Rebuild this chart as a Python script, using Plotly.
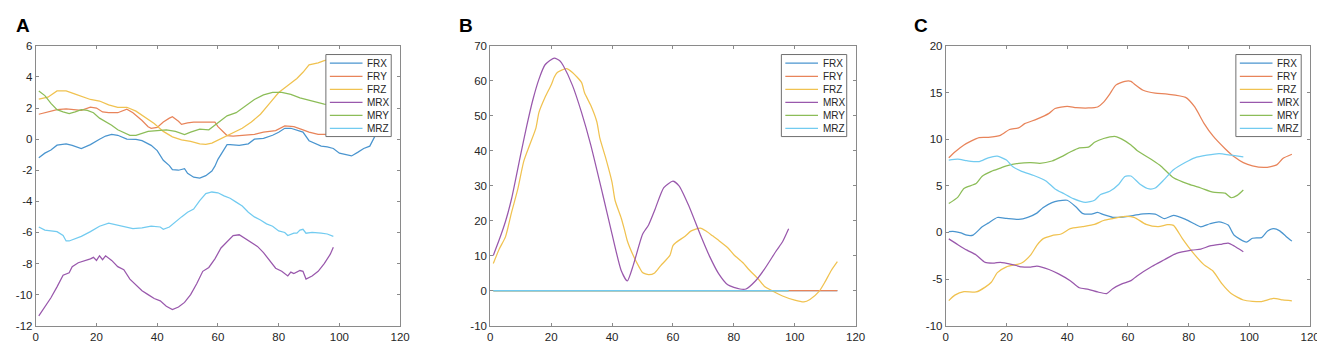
import plotly.graph_objects as go

# ---------------- data ----------------
SERIES = ["FRX", "FRY", "FRZ", "MRX", "MRY", "MRZ"]
COLORS = ["#4A95CF", "#E8845A", "#F0C250", "#9958AC", "#8CBD58", "#72CBF0"]

X_TICKS = [0, 20, 40, 60, 80, 100, 120]
A_YTICKS = [-12, -10, -8, -6, -4, -2, 0, 2, 4, 6]
B_YTICKS = [-10, 0, 10, 20, 30, 40, 50, 60, 70]
C_YTICKS = [-10, -5, 0, 5, 10, 15, 20]
PANEL_LABELS = ["A", "B", "C"]

# ---- Panel A ----
A_FRX_x = [1,3,5,7,10,12,15,18,21,23,25,27,30,33,35,38,40,42,44,45,47,49,50,52,54,56,58,59,60,62,63,64,67,70,72,75,78,80,82,84,86,88,90,92,94,96,98,100,102,104,106,108,110,111,112,114]
A_FRX_y = [-1.2,-0.9,-0.7,-0.39,-0.3,-0.4,-0.6,-0.35,-0.01,0.2,0.3,0.25,0.0,-0.02,-0.1,-0.4,-0.74,-1.36,-1.7,-1.96,-2.0,-1.9,-2.2,-2.45,-2.5,-2.35,-2.05,-1.74,-1.3,-0.64,-0.35,-0.35,-0.4,-0.3,0.0,0.05,0.25,0.44,0.7,0.7,0.6,0.45,-0.1,-0.3,-0.45,-0.5,-0.6,-0.9,-1.0,-1.08,-0.85,-0.6,-0.45,-0.1,0.3,0.7]
A_FRY_x = [1,4,7,10,13,15,18,20,22,24,27,30,32,35,37,38,40,42,44,45,47,48,50,52,55,59,60,62,63,65,68,72,75,79,82,85,88,90,93,96,98,102,106,110,114]
A_FRY_y = [1.6,1.75,1.9,1.95,1.9,1.85,2.06,2.0,1.75,1.7,1.7,1.93,1.7,1.2,0.8,0.69,0.75,1.1,1.35,1.44,1.15,0.95,1.05,1.1,1.1,1.1,0.8,0.4,0.23,0.2,0.25,0.3,0.45,0.55,0.85,0.8,0.6,0.45,0.3,0.3,0.35,0.4,0.45,0.5,0.55]
A_FRZ_x = [1,4,7,10,13,16,18,21,24,27,30,33,36,39,42,45,48,51,54,56,58,60,62,65,68,71,74,77,80,83,86,88,90,93,95,98,102,106,110,114]
A_FRZ_y = [2.58,2.7,3.1,3.1,2.9,2.7,2.55,2.45,2.2,2.05,2.05,1.8,1.4,1.0,0.5,0.15,-0.05,-0.15,-0.3,-0.33,-0.25,-0.05,0.15,0.45,0.7,1.1,1.6,2.3,3.0,3.45,3.9,4.3,4.78,4.9,5.05,5.2,5.2,5.25,5.2,5.2]
A_MRX_x = [1,3,5,7,9,11,12,14,16,18,19,20,21,22,23,25,27,29,31,33,35,37,39,41,43,45,47,49,51,53,55,57,59,61,63,65,67,69,71,73,75,77,79,81,83,84,85,87,88,89,91,93,95,97,98]
A_MRX_y = [-11.36,-10.8,-10.2,-9.5,-8.75,-8.6,-8.2,-7.95,-7.85,-7.7,-7.6,-7.8,-7.5,-7.75,-7.5,-7.8,-8.2,-8.4,-9.0,-9.4,-9.75,-10.0,-10.25,-10.4,-10.75,-10.96,-10.8,-10.5,-10.0,-9.3,-8.5,-8.25,-7.7,-7.0,-6.6,-6.2,-6.15,-6.4,-6.6,-6.9,-7.3,-7.8,-8.3,-8.5,-8.8,-8.55,-8.65,-8.45,-8.5,-9.0,-8.8,-8.5,-8.0,-7.4,-6.95]
A_MRY_x = [1,3,5,7,9,11,13,15,17,19,21,23,25,27,29,31,33,35,37,40,43,46,49,51,54,57,60,63,66,69,72,75,78,81,84,87,90,93,95,98]
A_MRY_y = [3.1,2.8,2.3,1.9,1.75,1.65,1.75,1.9,1.85,1.7,1.35,1.15,0.9,0.6,0.45,0.25,0.25,0.4,0.5,0.55,0.6,0.5,0.3,0.45,0.65,0.6,1.05,1.5,1.7,2.1,2.55,2.85,3.0,3.0,2.88,2.65,2.5,2.35,2.25,2.2]
A_MRZ_x = [1,3,5,7,9,10,11,13,15,18,21,24,26,28,30,32,35,38,41,42,44,46,48,50,52,54,56,58,60,62,64,66,68,70,72,74,76,78,80,82,83,85,86,87,88,89,91,94,96,98]
A_MRZ_y = [-5.65,-5.85,-5.9,-5.95,-6.2,-6.55,-6.55,-6.4,-6.25,-5.95,-5.6,-5.4,-5.5,-5.6,-5.7,-5.75,-5.7,-5.6,-5.65,-5.8,-5.65,-5.3,-5.0,-4.7,-4.5,-3.95,-3.5,-3.4,-3.45,-3.65,-3.8,-4.05,-4.3,-4.7,-5.0,-5.2,-5.45,-5.6,-5.9,-6.0,-6.2,-6.05,-6.05,-5.85,-5.8,-6.05,-6.0,-6.05,-6.1,-6.25]

# ---- Panel B ----
B_FRX_x = [1, 114]
B_FRX_y = [0, 0]
B_FRY_x = [1, 114]
B_FRY_y = [0, 0]
B_FRZ_x = [1,3,5,7,9,11,13,15,16,18,20,21,22,25,27,30,31,33,35,36,38,40,41,43,44,45,47,49,50,52,54,56,59,60,61,64,66,69,71,73,75,78,80,83,85,88,90,93,96,100,103,105,108,110,112,114]
B_FRZ_y = [7.8,12,15.4,22.4,28.9,37,41.8,46.5,51,55.3,58.8,61,62.4,63.5,62.4,59.5,56.5,53,48.3,43.6,37.7,31,25.8,20.8,17.7,14.3,10,6.6,5.2,4.6,5.1,7.2,10.1,12.9,13.8,15.6,17.1,17.9,17,15.7,14.4,12.3,10.3,8,6,3.4,1.3,-0.2,-1.5,-2.7,-3.2,-2.5,-0.2,2.6,5.8,8.3]
B_MRX_x = [1,3,5,7,10,12,14,16,18,21,23,24,27,30,33,37,40,43,45,47,50,52,54,57,60,62,65,69,72,75,78,82,84,87,90,94,96,98]
B_MRX_y = [10.1,14.7,19.8,26.3,39,47.2,54.6,60.5,64.6,66.5,65.6,64.3,58.7,50.9,41.7,27.3,16.2,5.8,2.8,7.4,16.1,18.8,23,29.5,31.3,30,24.7,16,9.9,4.9,1.7,0.5,0.5,2.7,6.1,11.5,14,17.7]
B_MRY_x = [1, 98]
B_MRY_y = [0, 0]
B_MRZ_x = [1, 98]
B_MRZ_y = [0, 0]

# ---- Panel C ----
C_FRX_x = [1,3,5,7,9,12,14,17,20,24,27,30,32,35,37,40,43,45,48,50,52,55,57,60,62,65,69,72,75,79,82,84,87,90,93,95,99,101,104,106,108,110,112,114]
C_FRX_y = [0.1,0.1,-0.05,-0.3,-0.28,0.6,1.0,1.6,1.5,1.4,1.62,2.07,2.65,3.2,3.38,3.45,2.7,2.05,1.97,2.14,1.9,1.62,1.62,1.72,1.83,2.0,1.97,1.48,1.83,1.4,0.9,0.6,0.93,1.14,0.79,-0.3,-1.03,-0.62,-0.55,0.15,0.41,0.17,-0.4,-0.93]
C_FRY_x = [1,3,6,11,14,18,21,24,26,30,34,36,40,43,47,50,52,54,56,59,61,62,65,69,73,79,82,85,88,92,95,98,101,105,109,111,114]
C_FRY_y = [8.0,8.62,9.38,10.17,10.2,10.41,11.03,11.2,11.66,12.14,12.76,13.28,13.52,13.38,13.34,13.45,13.97,14.83,15.79,16.2,16.2,15.93,15.24,14.93,14.83,14.48,13.45,11.72,10.34,8.97,8.1,7.48,7.14,6.97,7.24,7.93,8.38]
C_FRZ_x = [1,3,6,10,13,15,17,20,25,28,30,32,35,38,41,45,49,52,55,59,62,66,70,73,75,78,81,85,88,91,94,98,101,104,108,111,114]
C_FRZ_y = [-7.31,-6.72,-6.34,-6.38,-5.86,-5.34,-4.31,-3.69,-3.28,-2.41,-1.38,-0.69,-0.34,-0.17,0.41,0.62,0.86,1.28,1.48,1.72,1.62,0.86,0.62,0.83,0.76,-0.69,-2.0,-3.45,-4.14,-5.52,-6.55,-7.24,-7.38,-7.41,-7.07,-7.24,-7.34]
C_MRX_x = [1,4,7,10,13,16,18,22,25,28,30,34,37,41,44,47,50,53,55,58,61,63,68,72,76,81,84,87,91,93,95,98]
C_MRX_y = [-0.69,-1.31,-1.9,-2.41,-3.21,-3.28,-3.21,-3.45,-3.69,-3.72,-3.62,-3.97,-4.41,-5.17,-5.93,-6.1,-6.38,-6.55,-6.03,-5.52,-5.17,-4.66,-3.62,-2.93,-2.24,-1.9,-1.79,-1.45,-1.24,-1.14,-1.45,-2.07]
C_MRY_x = [1,4,6,10,12,15,18,20,24,28,31,35,38,41,44,47,49,52,56,58,61,63,68,71,75,80,84,88,92,94,96,98]
C_MRY_y = [3.1,3.79,4.72,5.24,6.03,6.55,6.9,7.14,7.41,7.48,7.41,7.66,8.1,8.62,9.07,9.14,9.66,10.07,10.28,10.0,9.38,8.79,7.76,7.07,5.86,5.17,4.76,4.31,4.21,3.72,3.97,4.55]
C_MRZ_x = [1,4,7,11,14,17,20,22,25,29,33,36,39,42,46,49,51,54,57,59,61,64,67,69,72,75,79,82,86,90,94,98]
C_MRZ_y = [7.76,7.86,7.69,7.59,8.0,8.17,7.76,7.07,6.55,6.1,5.52,4.66,4.14,3.62,3.21,3.45,4.07,4.41,5.17,6.0,6.05,5.17,4.66,4.76,5.69,6.72,7.52,8.0,8.28,8.45,8.28,8.1]

# ---------------- layout helpers ----------------
W, H = 1325, 344
FONT = "Liberation Sans, Arial, Helvetica, sans-serif"
AXCOL = "#8a8a8a"
TXTCOL = "#262626"


def px(x):
    return x / W


def py(y):
    return 1 - y / H


# plot-area pixel boxes (left, right) ; top / bottom shared
PLOT_LR = [(25, 393), (484, 853), (944, 1312)]
PLOT_T, PLOT_B = 33, 323
YRANGES = [(-12, 6), (-10, 70), (-10, 20)]
YTICKS = [A_YTICKS, B_YTICKS, C_YTICKS]
LABEL_X = [3, 450, 910]

panels = [
    [(A_FRX_x, A_FRX_y), (A_FRY_x, A_FRY_y), (A_FRZ_x, A_FRZ_y),
     (A_MRX_x, A_MRX_y), (A_MRY_x, A_MRY_y), (A_MRZ_x, A_MRZ_y)],
    [(B_FRX_x, B_FRX_y), (B_FRY_x, B_FRY_y), (B_FRZ_x, B_FRZ_y),
     (B_MRX_x, B_MRX_y), (B_MRY_x, B_MRY_y), (B_MRZ_x, B_MRZ_y)],
    [(C_FRX_x, C_FRX_y), (C_FRY_x, C_FRY_y), (C_FRZ_x, C_FRZ_y),
     (C_MRX_x, C_MRX_y), (C_MRY_x, C_MRY_y), (C_MRZ_x, C_MRZ_y)],
]

fig = go.Figure()
shapes = []
annotations = []

for p, series in enumerate(panels):
    sfx = "" if p == 0 else str(p + 1)
    shape = "linear" if p == 0 else "spline"
    for i, (xs, ys) in enumerate(series):
        fig.add_trace(go.Scatter(
            x=xs, y=ys, mode="lines", name=SERIES[i],
            line=dict(color=COLORS[i], width=1.25, shape=shape, smoothing=0.6),
            xaxis="x" + sfx, yaxis="y" + sfx, showlegend=False,
            hoverinfo="skip"))

    l, r = PLOT_LR[p]
    axis_common = dict(
        showline=True, linecolor=AXCOL, linewidth=1, mirror="allticks",
        ticks="inside", ticklen=3, tickcolor=AXCOL, tickwidth=1,
        showgrid=False, zeroline=False, fixedrange=True,
        tickfont=dict(family=FONT, size=11.5, color=TXTCOL),
    )
    fig.update_layout(**{
        "xaxis" + sfx: dict(
            domain=[px(l), px(r)], range=[0, 120], anchor="y" + sfx,
            tickvals=X_TICKS, ticktext=[str(v) for v in X_TICKS],
            **axis_common),
        "yaxis" + sfx: dict(
            domain=[py(PLOT_B), py(PLOT_T)], range=list(YRANGES[p]),
            anchor="x" + sfx,
            tickvals=YTICKS[p], ticktext=[str(v) for v in YTICKS[p]],
            **axis_common),
    })

    # panel letter
    annotations.append(dict(
        text="<b>%s</b>" % PANEL_LABELS[p], xref="paper", yref="paper",
        x=px(LABEL_X[p]), y=py(12), xanchor="left", yanchor="middle",
        showarrow=False, font=dict(family=FONT, size=19, color="#000000")))

    # legend box (MATLAB style, north-east)
    bx1 = r - 9
    bx0 = bx1 - 66
    by0 = PLOT_T + 9
    by1 = by0 + 85
    shapes.append(dict(type="rect", xref="paper", yref="paper",
                       x0=px(bx0), x1=px(bx1), y0=py(by1), y1=py(by0),
                       fillcolor="white", line=dict(color="#6f6f6f", width=1),
                       layer="above"))
    for i, name in enumerate(SERIES):
        yy = by0 + 9 + i * 13.5
        shapes.append(dict(type="line", xref="paper", yref="paper",
                           x0=px(bx0 + 4), x1=px(bx0 + 37), y0=py(yy), y1=py(yy),
                           line=dict(color=COLORS[i], width=1.25), layer="above"))
        annotations.append(dict(
            text=name, xref="paper", yref="paper", x=px(bx0 + 40), y=py(yy),
            xanchor="left", yanchor="middle", showarrow=False,
            font=dict(family=FONT, size=10, color=TXTCOL)))

fig.update_layout(
    width=W, height=H, autosize=False,
    margin=dict(l=0, r=0, t=0, b=0),
    paper_bgcolor="white", plot_bgcolor="white",
    shapes=shapes, annotations=annotations, showlegend=False,
)

fig.write_html("out.html", config={"displayModeBar": False})
